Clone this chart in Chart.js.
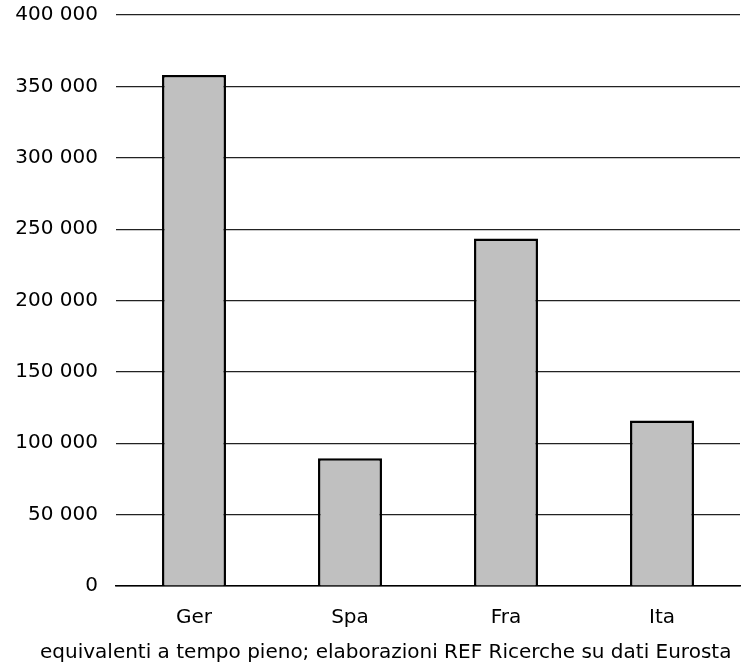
<!DOCTYPE html>
<html>
<head>
<meta charset="utf-8">
<script src="https://cdn.jsdelivr.net/npm/chart.js@4"></script>
<style>
  html, body { margin: 0; padding: 0; background: #fff; }
  #wrap { width: 749px; height: 667px; }
</style>
</head>
<body>
<div id="wrap"><canvas id="chart" width="749" height="667"></canvas></div>
<script>
const categories = ["Ger", "Spa", "Fra", "Ita"];
const values = [358000, 89500, 243500, 116000];
const yTicks = [0, 50000, 100000, 150000, 200000, 250000, 300000, 350000, 400000];
const sourceNote = "equivalenti a tempo pieno; elaborazioni REF Ricerche su dati Eurosta";

const FONT = "'DejaVu Sans', Verdana, sans-serif";

function fmt(v) {
    return String(v).replace(/\B(?=(\d{3})+(?!\d))/g, " ");
}

// draws the source line under the axis labels
const notePlugin = {
    id: "note",
    afterDraw(chart) {
        const ctx = chart.ctx;
        ctx.save();
        ctx.font = "20px " + FONT;
        ctx.fillStyle = "#000";
        ctx.textAlign = "left";
        ctx.textBaseline = "middle";
        ctx.fillText(sourceNote, 40, 653);
        ctx.restore();
    }
};

new Chart(document.getElementById("chart"), {
    type: "bar",
    data: {
        labels: categories,
        datasets: [{
            data: values,
            backgroundColor: "#c0c0c0",
            borderColor: "#000",
            borderWidth: 2.5,
            borderSkipped: "bottom",
            categoryPercentage: 1,
            barPercentage: 0.41
        }]
    },
    options: {
        responsive: false,
        animation: false,
        layout: { padding: { top: 15, right: 9, bottom: 25, left: 0 } },
        plugins: { legend: { display: false }, tooltip: { enabled: false } },
        scales: {
            x: {
                grid: { display: false },
                border: { display: true, color: "#000", width: 1.5 },
                ticks: { color: "#000", font: { family: FONT, size: 20 }, padding: 12 }
            },
            y: {
                min: 0, max: 400000,
                afterBuildTicks: axis => { axis.ticks = yTicks.map(v => ({ value: v })); },
                afterFit: axis => { axis.paddingTop = 0; axis.paddingBottom = 0; axis.width = 116; },
                grid: { color: "#222", lineWidth: 1.2, drawTicks: false },
                border: { display: false },
                ticks: { color: "#000", font: { family: FONT, size: 20 }, padding: 18, callback: v => fmt(v) }
            }
        }
    },
    plugins: [notePlugin]
});
</script>
</body>
</html>
